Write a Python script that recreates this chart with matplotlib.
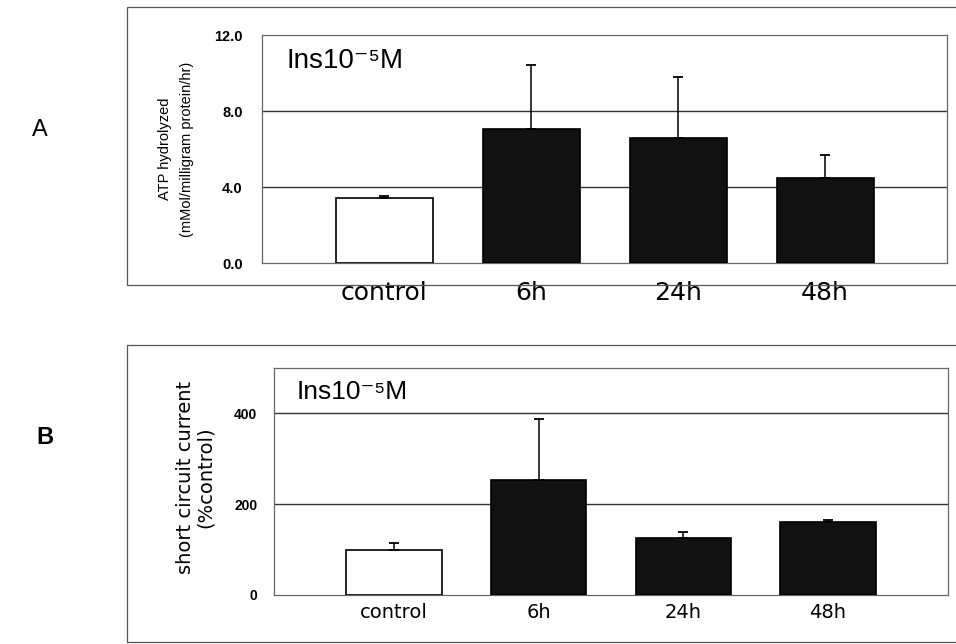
import matplotlib.pyplot as plt
import numpy as np
from matplotlib.patches import Rectangle

groups = ["control", "6h", "24h", "48h"]

# panel A: ATP hydrolyzed
atp_mean = [3.42, 7.05, 6.58, 4.50]
atp_err = [0.12, 3.37, 3.21, 1.18]
atp_ticks = [0.0, 4.0, 8.0, 12.0]

# panel B: short circuit current (% control)
scc_mean = [100, 254, 126, 161]
scc_err = [15, 133, 13, 4]
scc_ticks = [0, 200, 400]

fills = ["white", "#111111", "#111111", "#111111"]

plt.rcParams['font.family'] = ['Liberation Sans', 'DejaVu Sans']

fig = plt.figure(figsize=(9.56, 6.44), dpi=100)

# outer boxes round each panel (figure fraction)
fig.add_artist(Rectangle((127/956, 1-285/644), 0.99, (285-7)/644, transform=fig.transFigure,
                         fill=False, edgecolor="#555555", lw=0.9))
fig.add_artist(Rectangle((127/956, 1-642/644), 0.99, (642-345)/644, transform=fig.transFigure,
                         fill=False, edgecolor="#555555", lw=0.9))

axA = fig.add_axes([0.2741, 0.5916, 0.7165, 0.3540])
axB = fig.add_axes([0.2866, 0.0761, 0.7050, 0.3525])

x = np.arange(len(groups))

def draw(ax, mean, err, ticks, ylim, fmt):
    ax.bar(x, mean, width=0.66, color=fills, edgecolor="black", linewidth=1.2, zorder=3)
    ax.errorbar(x, mean, yerr=[np.zeros(len(err)), err], fmt="none", ecolor="black",
                elinewidth=1.1, capsize=3.8, capthick=1.3, zorder=4)
    ax.set_xlim(-0.83, 3.83)
    ax.set_ylim(*ylim)
    ax.set_yticks(ticks)
    ax.set_yticklabels([fmt.format(t) for t in ticks])
    for t in ticks[1:]:
        if t < ylim[1]:
            ax.axhline(t, color="#333333", lw=1.0, zorder=1)
    for s in ax.spines.values():
        s.set_color("#666666")
        s.set_linewidth(0.9)
    ax.set_xticks(x)
    ax.set_xticklabels(groups)

draw(axA, atp_mean, atp_err, atp_ticks, (0, 12.0), "{:.1f}")
draw(axB, scc_mean, scc_err, scc_ticks, (0, 500), "{:d}")

axA.tick_params(axis="y", length=0, pad=14, labelsize=10.5)
axA.tick_params(axis="x", length=0, pad=13)
for lab in axA.get_yticklabels():
    lab.set_fontweight("bold")
for lab in axA.get_xticklabels():
    lab.set_family("DejaVu Sans")
    lab.set_fontsize(18)

axB.tick_params(axis="y", length=0, pad=12, labelsize=10)
axB.tick_params(axis="x", length=0, pad=6)
for lab in axB.get_yticklabels():
    lab.set_fontweight("bold")
for lab in axB.get_xticklabels():
    lab.set_family("DejaVu Sans")
    lab.set_fontsize(14)

axA.text(-0.1255, 0.5, "ATP hydrolyzed\n(mMol/milligram protein/hr)", transform=axA.transAxes,
         rotation=90, ha="center", va="center", fontsize=10.5,
         family=["Liberation Sans Narrow", "Liberation Sans"], linespacing=1.7)
axB.text(-0.117, 0.52, "short circuit current\n(%control)", transform=axB.transAxes,
         rotation=90, ha="center", va="center", fontsize=14, family="DejaVu Sans", linespacing=1.05)

ins = "Ins10\u207b\u2075M"
axA.text(0.036, 0.886, ins, transform=axA.transAxes, ha="left", va="center", fontsize=20,
         family=["Liberation Sans", "DejaVu Sans"])
axB.text(0.034, 0.894, ins, transform=axB.transAxes, ha="left", va="center", fontsize=19,
         family=["Liberation Sans", "DejaVu Sans"])

fig.text(40/956, 1-130/644, "A", ha="center", va="center", fontsize=17)
fig.text(45/956, 1-437/644, "B", ha="center", va="center", fontsize=17, fontweight="bold")

fig.savefig("out.png", dpi=100)
